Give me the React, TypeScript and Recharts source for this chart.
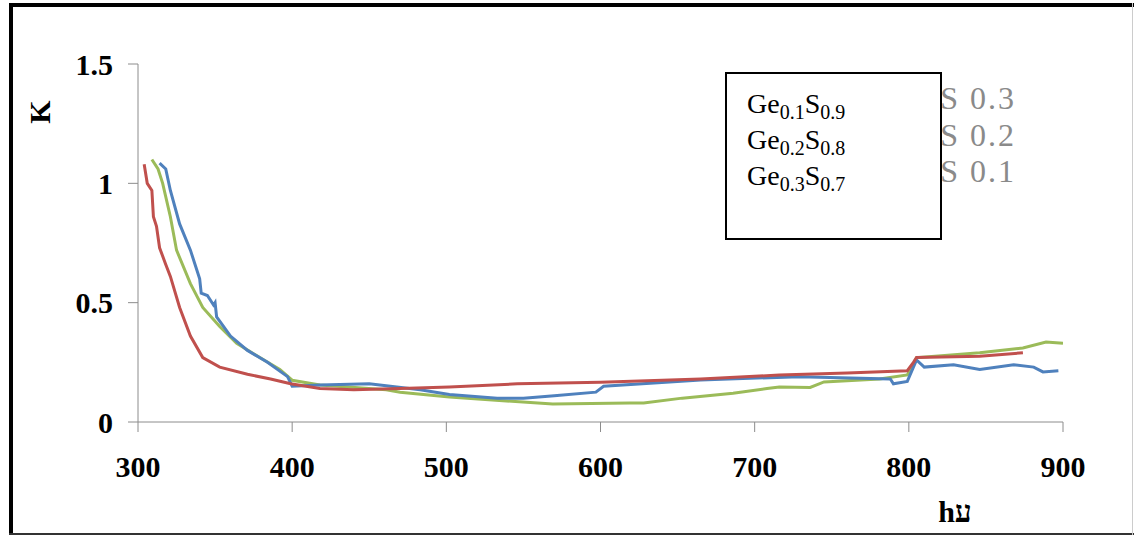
import React from 'react';
import { LineChart, Line, XAxis, YAxis, Legend } from 'recharts';

// photon energy (x) and K
const blueE = [314, 318, 321, 327, 334, 340, 341, 345, 349, 350, 351, 360, 371, 384, 397, 400, 418, 450, 483, 502, 533, 550, 570, 597, 602, 665, 729, 788, 790, 799, 805, 810, 829, 846, 868, 881, 887, 897];
const blueK = [1.085, 1.06, 0.97, 0.83, 0.72, 0.6, 0.54, 0.53, 0.49, 0.5, 0.44, 0.36, 0.3, 0.25, 0.19, 0.15, 0.155, 0.16, 0.135, 0.115, 0.1, 0.1, 0.11, 0.125, 0.15, 0.176, 0.19, 0.18, 0.16, 0.17, 0.26, 0.23, 0.24, 0.22, 0.24, 0.23, 0.21, 0.215];

const redE = [304, 306, 309, 310, 312, 314, 318, 321, 327, 334, 342, 353, 371, 386, 399, 418, 440, 470, 502, 546, 600, 665, 716, 760, 799, 803, 805, 846, 874];
const redK = [1.08, 1.0, 0.97, 0.86, 0.82, 0.73, 0.66, 0.61, 0.48, 0.36, 0.27, 0.23, 0.2, 0.18, 0.16, 0.14, 0.135, 0.14, 0.147, 0.16, 0.167, 0.18, 0.197, 0.205, 0.215, 0.25, 0.27, 0.275, 0.29];

const greenE = [309, 313, 316, 321, 325, 334, 342, 353, 364, 379, 392, 400, 418, 461, 470, 502, 539, 569, 619, 628, 653, 686, 708, 716, 736, 745, 781, 799, 805, 846, 874, 889, 900];
const greenK = [1.1, 1.06, 1.0, 0.86, 0.72, 0.58, 0.48, 0.4, 0.33, 0.27, 0.22, 0.175, 0.155, 0.135, 0.125, 0.105, 0.088, 0.075, 0.08, 0.08, 0.1, 0.12, 0.14, 0.147, 0.145, 0.168, 0.18, 0.197, 0.27, 0.29, 0.31, 0.335, 0.33];

const seriesNames = ['S 0.3', 'S 0.2', 'S 0.1'];
const xTicks = [300, 400, 500, 600, 700, 800, 900];
const yTicks = [0, 0.5, 1, 1.5];
const boxLabels = [
  ['0.1', '0.9'],
  ['0.2', '0.8'],
  ['0.3', '0.7'],
];

const pair = (xs: number[], ys: number[]) => xs.map((e, i) => ({ e, k: ys[i] }));

const serif = '"Liberation Serif", "Times New Roman", serif';
const tickStyle = { fill: '#000', fontSize: 30, fontWeight: 700, fontFamily: serif };

// legend entries end up mostly hidden behind the text box, as in the original
const GhostLegend = (props: any) => {
  const items = [...(props.payload || [])].sort((a: any, b: any) => (a.value < b.value ? 1 : -1));
  return (
    <div style={{ fontFamily: serif, fontSize: 32, letterSpacing: 2, color: '#8a8a8a', textAlign: 'right', lineHeight: '36.5px' }}>
      {items.map((p: any) => (
        <div key={p.value}>{p.value}</div>
      ))}
    </div>
  );
};

const sub: React.CSSProperties = { fontSize: 20, position: 'relative', top: 6, lineHeight: 0 };

const App: React.FC = () => {
  return (
    <div style={{ position: 'absolute', left: 0, top: 0, width: 1134, height: 535, background: '#fff', fontFamily: serif }}>
      {/* frame */}
      <div style={{ position: 'absolute', left: 9, top: 3, width: 4, height: 532, background: '#000' }} />
      <div style={{ position: 'absolute', left: 9, top: 3, width: 1125, height: 4, background: '#000' }} />
      <div style={{ position: 'absolute', left: 9, top: 533, width: 1125, height: 2, background: '#333' }} />
      <div style={{ position: 'absolute', left: 1132, top: 3, width: 1, height: 532, background: '#ccc' }} />

      <LineChart width={1134} height={535} margin={{ top: 64, right: 71, bottom: 53, left: 58 }}>
        <XAxis
          type="number"
          dataKey="e"
          domain={[300, 900]}
          ticks={xTicks}
          allowDataOverflow
          height={60}
          stroke="#8c8c8c"
          tickSize={10}
          tickMargin={24}
          tick={tickStyle}
        />
        <YAxis
          type="number"
          dataKey="k"
          domain={[0, 1.5]}
          ticks={yTicks}
          width={80}
          stroke="#8c8c8c"
          tickSize={10}
          tickMargin={15}
          tick={tickStyle}
        />
        <Legend
          layout="horizontal"
          verticalAlign="middle"
          align="center"
          content={<GhostLegend />}
          wrapperStyle={{ left: 880, top: 80, width: 136 }}
        />
        <Line data={pair(greenE, greenK)} dataKey="k" name={seriesNames[2]} stroke="#9BBB59" strokeWidth={3} dot={false} type="linear" isAnimationActive={false} />
        <Line data={pair(blueE, blueK)} dataKey="k" name={seriesNames[0]} stroke="#4F81BD" strokeWidth={3} dot={false} type="linear" isAnimationActive={false} />
        <Line data={pair(redE, redK)} dataKey="k" name={seriesNames[1]} stroke="#C0504D" strokeWidth={3} dot={false} type="linear" isAnimationActive={false} />
      </LineChart>

      {/* axis titles */}
      <div style={{ position: 'absolute', left: 40, top: 112, transform: 'translate(-50%, -50%) rotate(-90deg)', fontSize: 30, fontWeight: 700, lineHeight: 1 }}>K</div>
      <div style={{ position: 'absolute', left: 955, top: 512, transform: 'translate(-50%, -50%)', fontSize: 30, fontWeight: 700, lineHeight: 1, whiteSpace: 'nowrap' }}>hע</div>

      {/* text box laid over the legend */}
      <div style={{ position: 'absolute', left: 725, top: 72, width: 217, height: 168, boxSizing: 'border-box', border: '2px solid #000', background: '#fff', zIndex: 10, paddingTop: 12, paddingLeft: 20, fontSize: 28, lineHeight: '36px', color: '#000' }}>
        {boxLabels.map(([g, s]) => (
          <div key={g} style={{ height: 36 }}>
            Ge<span style={sub}>{g}</span>S<span style={sub}>{s}</span>
          </div>
        ))}
      </div>
    </div>
  );
};

export default App;
